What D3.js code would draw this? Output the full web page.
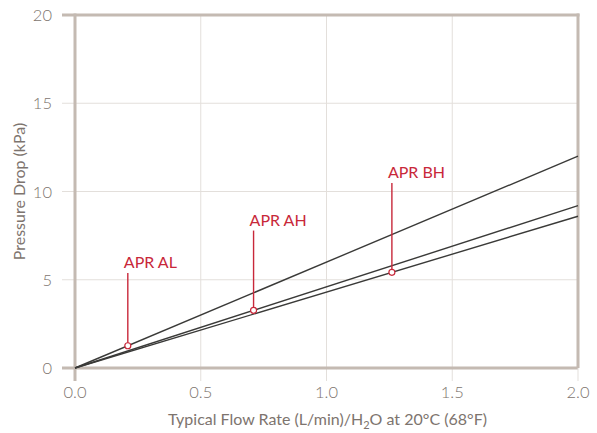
<!DOCTYPE html>
<html><head><meta charset="utf-8">
<script src="https://cdn.jsdelivr.net/npm/d3@7"></script>
<style>body{margin:0;background:#fff}svg{display:block}</style>
</head><body>
<svg id="c" width="597" height="433"></svg>
<script>
const xTicks = [0, 0.5, 1.0, 1.5, 2.0];
const yTicks = [0, 5, 10, 15, 20];
const seriesNames = ["APR AL", "APR AH", "APR BH"];
const seriesX = [0, 2.0];
const seriesAL = [0, 12.0];
const seriesAH = [0, 9.2];
const seriesBH = [0, 8.6];
const markerX = [0.21, 0.71, 1.26];
const labelY = [5.5, 7.9, 10.6];

const svg = d3.select("#c");
const x = d3.scaleLinear().domain([0, 2]).range([75, 578]);
const y = d3.scaleLinear().domain([0, 20]).range([368, 15]);
const font = "Lato, 'Open Sans', sans-serif";
const axisCol = "#c4bab2", gridCol = "#e3dfdb", textCol = "#7d746e", red = "#c8283a";

// gridlines
svg.append("g").selectAll("line").data(xTicks.slice(1, -1)).join("line")
  .attr("x1", d => x(d)).attr("x2", d => x(d)).attr("y1", y(20)).attr("y2", y(0) + 13)
  .attr("stroke", gridCol).attr("stroke-width", 1);
svg.append("g").selectAll("line").data(yTicks.slice(1, -1)).join("line")
  .attr("x1", x(0) - 13).attr("x2", x(2)).attr("y1", d => y(d)).attr("y2", d => y(d))
  .attr("stroke", gridCol).attr("stroke-width", 1);

// axes frame
const ax = svg.append("g").attr("stroke", axisCol).attr("stroke-width", 3);
ax.append("line").attr("x1", x(0)).attr("x2", x(0)).attr("y1", y(20) - 1.5).attr("y2", y(0) + 13);
ax.append("line").attr("x1", x(2)).attr("x2", x(2)).attr("y1", y(20) - 1.5).attr("y2", y(0));
ax.append("line").attr("x1", x(0) - 13).attr("x2", x(2) + 1.5).attr("y1", y(20)).attr("y2", y(20));
ax.append("line").attr("x1", x(0) - 13).attr("x2", x(2)).attr("y1", y(0)).attr("y2", y(0));
ax.append("line").attr("x1", x(2)).attr("x2", x(2)).attr("y1", y(0)).attr("y2", y(0) + 13).attr("stroke-width", 1).attr("stroke", gridCol);

// tick labels
svg.append("g").selectAll("text").data(xTicks).join("text")
  .attr("x", d => x(d)).attr("y", 398).attr("text-anchor", "middle")
  .attr("font-family", font).attr("font-size", 16.5).attr("font-weight", 300).attr("fill", textCol)
  .text(d => d.toFixed(1));
svg.append("g").selectAll("text").data(yTicks).join("text")
  .attr("x", 52).attr("y", d => y(d) + 6).attr("text-anchor", "end")
  .attr("font-family", font).attr("font-size", 16.5).attr("font-weight", 300).attr("fill", textCol)
  .text(d => d);

// axis titles
svg.append("text").attr("x", (x(0) + x(2)) / 2 + 1).attr("y", 425).attr("text-anchor", "middle")
  .attr("font-family", font).attr("font-size", 16).attr("fill", textCol)
  .html("Typical Flow Rate (L/min)/H<tspan font-size='11' dy='4'>2</tspan><tspan dy='-4'>O at 20°C (68°F)</tspan>");
svg.append("text").attr("transform", `translate(25,${(y(0) + y(20)) / 2}) rotate(-90)`)
  .attr("text-anchor", "middle").attr("font-family", font).attr("font-size", 16).attr("fill", textCol)
  .text("Pressure Drop (kPa)");

// series lines
const series = [seriesAL, seriesAH, seriesBH];
const line = d3.line().x((d, i) => x(seriesX[i])).y(d => y(d));
svg.append("g").selectAll("path").data(series).join("path")
  .attr("d", d => line(d)).attr("fill", "none").attr("stroke", "#3a3a38").attr("stroke-width", 1.4);

// markers
const interp = (s, xv) => s[0] + (s[1] - s[0]) * (xv - seriesX[0]) / (seriesX[1] - seriesX[0]);
const g = svg.append("g");
seriesNames.forEach((name, i) => {
  const mv = interp(series[i], markerX[i]);
  g.append("line").attr("x1", x(markerX[i])).attr("x2", x(markerX[i]))
    .attr("y1", y(labelY[i]) + 2).attr("y2", y(mv)).attr("stroke", red).attr("stroke-width", 1.4);
  g.append("circle").attr("cx", x(markerX[i])).attr("cy", y(mv)).attr("r", 3)
    .attr("fill", "#fff").attr("stroke", red).attr("stroke-width", 1.2);
  g.append("text").attr("x", x(markerX[i]) - 4).attr("y", y(labelY[i]) - 3)
    .attr("font-family", font).attr("font-size", 16).attr("fill", red).text(name);
});
</script>
</body></html>
